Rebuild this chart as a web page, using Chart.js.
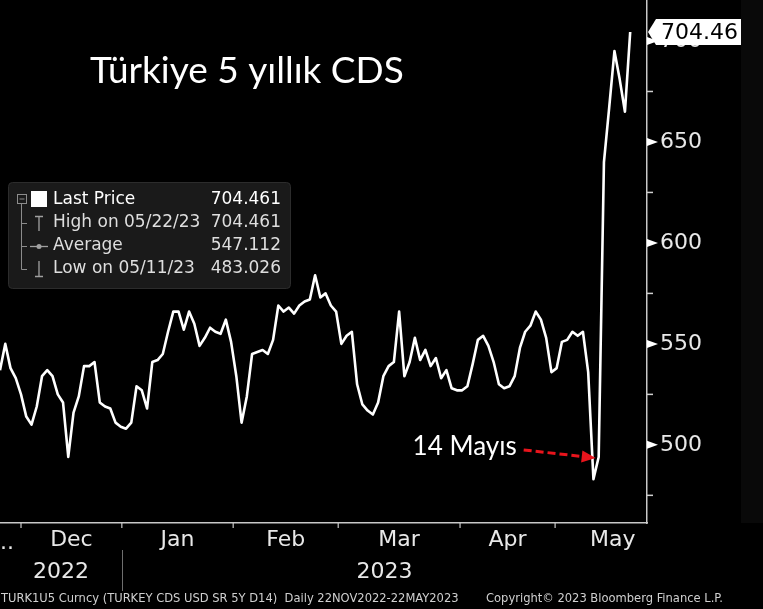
<!DOCTYPE html>
<html><head><meta charset="utf-8">
<script src="https://cdn.jsdelivr.net/npm/chart.js@4.4.1/dist/chart.umd.min.js"></script>
<style>html,body{margin:0;padding:0;background:#000;overflow:hidden}canvas{display:block}</style>
</head><body>
<canvas id="c" width="763" height="609" style="width:763px;height:609px"></canvas>
<script>
// trading-day index (0 = 1 Dec 2022) and Turkey 5Y CDS level
const tradingDay = [-4,-3,-2,-1,0,1,2,3,4,5,6,7,8,9,10,11,12,13,14,15,16,17,18,19,20,21,22,23,24,25,26,27,28,29,30,31,32,33,34,35,36,37,38,39,40,41,42,43,44,45,46,47,48,49,50,51,52,53,54,55,56,57,58,59,60,61,62,63,64,65,66,67,68,69,70,71,72,73,74,75,76,77,78,79,80,81,82,83,84,85,86,87,88,89,90,91,92,93,94,95,96,97,98,99,100,101,102,103,104,105,106,107,108,109,110,111,112,113,114,115,116];
const cdsValue = [537,550,538,533,525,514,510,519,534,537,534,525,521,494,516,524,539,539,541,521,519,518,511,509,508,511,529,527,518,541,542,545,556,566,566,557,566,560,549,553,558,556,555,562,551,534,511,524,545,546,547,545,552,569,566,568,565,569,571,572,584,573,575,569,566,550,554,556,530,520,517,515,521,534,539,541,566,534,541,553,542,547,539,543,533,537,528,527,527,529,540,552,554,549,541,530,528,529,534,548,556,559,566,562,553,536,538,551,552,556,554,556,536,483.026,494,640,667,695,681,665,704.461];
const monthStarts = [0,19.2,40.4,60.4,83.6,101.7,123.7];
const monthLabels = ['Dec','Jan','Feb','Mar','Apr','May'];
const yearLabels = ['2022','2023'];
const yTickValues = [500,550,600,650,700];
const yMinorValues = [475,525,575,625,675];
const legendRows = [['Last Price','704.461'],['High on 05/22/23','704.461'],['Average','547.112'],['Low on 05/11/23','483.026']];
const lastValueLabel = '704.46';
const noteDay = 110, noteValue = 494, noteText = '14 Mayıs';
const titleText = 'Türkiye 5 yıllık CDS';
const footerLeft = 'TURK1U5 Curncy (TURKEY CDS USD SR 5Y D14)  Daily 22NOV2022-22MAY2023';
const footerRight = 'Copyright\u00A9 2023 Bloomberg Finance L.P.';

const monthCenters = monthLabels.map((m,i)=>(monthStarts[i]+monthStarts[i+1])/2);
const AX = '"DejaVu Sans", sans-serif';
const AXC = '"DejaVu Sans Condensed", "Liberation Sans Narrow", "DejaVu Sans", sans-serif';

const decor = {
  id:'decor',
  afterDraw(chart){
    const ctx = chart.ctx, ca = chart.chartArea, xs = chart.scales.x, ys = chart.scales.y;
    ctx.save();
    // right dark strip
    ctx.fillStyle = '#090909';
    ctx.fillRect(741, 0, 22, ca.bottom);
    // y minor ticks
    ctx.strokeStyle = '#d0d0d0'; ctx.lineWidth = 1.5;
    yMinorValues.forEach(v=>{const y=ys.getPixelForValue(v);ctx.beginPath();ctx.moveTo(ca.right,y);ctx.lineTo(ca.right+6,y);ctx.stroke();});
    // y major tick triangles
    ctx.fillStyle = '#ffffff';
    yTickValues.forEach(v=>{const y=ys.getPixelForValue(v);ctx.beginPath();ctx.moveTo(ca.right,y-4);ctx.lineTo(ca.right+11,y);ctx.lineTo(ca.right,y+4);ctx.closePath();ctx.fill();});
    // x month ticks
    ctx.strokeStyle = '#c8c8c8'; ctx.lineWidth = 1.2;
    monthStarts.forEach(d=>{const x=xs.getPixelForValue(d); if(x<ca.left||x>ca.right) return; ctx.beginPath();ctx.moveTo(x,ca.bottom);ctx.lineTo(x,ca.bottom+5);ctx.stroke();});
    // truncated previous month label
    ctx.fillStyle = '#e8e8e8'; ctx.font = '22px '+AX; ctx.textBaseline='alphabetic'; ctx.textAlign='left';
    ctx.fillText('..', ca.left, ca.bottom+26);
    // year labels
    const yb = xs.getPixelForValue(monthStarts[1]);
    ctx.textAlign='center';
    ctx.fillText(yearLabels[0], (ca.left+yb)/2, ca.bottom+55);
    ctx.fillText(yearLabels[1], (yb+ca.right)/2, ca.bottom+55);
    ctx.strokeStyle = '#6e6e6e'; ctx.lineWidth = 1;
    ctx.beginPath(); ctx.moveTo(Math.round(yb)+0.5, ca.bottom+27); ctx.lineTo(Math.round(yb)+0.5, ca.bottom+68); ctx.stroke();
    // footer
    ctx.fillStyle = '#cfcfcf'; ctx.font = '12.8px '+AXC; ctx.textAlign='left';
    ctx.fillText(footerLeft, 1, 602);
    ctx.fillText(footerRight, 486, 602);
    // title
    ctx.fillStyle = '#ffffff'; ctx.font = '37px Lato, "Open Sans", sans-serif';
    ctx.fillText(titleText, 90, 83);
    // annotation
    const px = xs.getPixelForValue(noteDay), py = ys.getPixelForValue(noteValue);
    const tipX = px-3, tipY = py+1, tailX = tipX-72, tailY = tipY-8;
    ctx.strokeStyle = '#e8141c'; ctx.fillStyle = '#e8141c'; ctx.lineWidth = 3; ctx.setLineDash([8,4]);
    const ang = Math.atan2(tipY-tailY, tipX-tailX);
    ctx.beginPath(); ctx.moveTo(tailX,tailY); ctx.lineTo(tipX-12*Math.cos(ang), tipY-12*Math.sin(ang)); ctx.stroke();
    ctx.setLineDash([]);
    ctx.beginPath(); ctx.moveTo(tipX,tipY);
    ctx.lineTo(tipX-14*Math.cos(ang)+6*Math.sin(ang), tipY-14*Math.sin(ang)-6*Math.cos(ang));
    ctx.lineTo(tipX-14*Math.cos(ang)-6*Math.sin(ang), tipY-14*Math.sin(ang)+6*Math.cos(ang));
    ctx.closePath(); ctx.fill();
    ctx.fillStyle = '#ffffff'; ctx.font = '26px Lato, "Open Sans", sans-serif'; ctx.textAlign='right'; ctx.textBaseline='middle';
    ctx.fillText(noteText, tailX-7, tailY-3);
    // legend box
    ctx.fillStyle = '#1a1a1a'; ctx.strokeStyle = '#2c2c2c'; ctx.lineWidth = 1;
    ctx.beginPath(); ctx.roundRect(8.5, 182.5, 282, 106, 4); ctx.fill(); ctx.stroke();
    ctx.strokeStyle = '#8c8c8c';
    ctx.strokeRect(17.5, 194.5, 9, 9);
    ctx.beginPath(); ctx.moveTo(19.5,199); ctx.lineTo(24.5,199); ctx.stroke();
    ctx.beginPath(); ctx.moveTo(21.5,203.5); ctx.lineTo(21.5,269.5);
    [223,246,269].forEach(y=>{ctx.moveTo(21.5,y+0.5);ctx.lineTo(27,y+0.5);});
    ctx.stroke();
    ctx.fillStyle = '#ffffff'; ctx.fillRect(31, 191, 16, 16);
    ctx.strokeStyle = '#a0a0a0'; ctx.lineWidth = 1.3;
    ctx.beginPath(); ctx.moveTo(35,216.5); ctx.lineTo(43,216.5); ctx.moveTo(39,216.5); ctx.lineTo(39,231); ctx.stroke();
    ctx.beginPath(); ctx.moveTo(30,246.5); ctx.lineTo(48,246.5); ctx.stroke();
    ctx.beginPath(); ctx.arc(39,246.5,2.5,0,Math.PI*2); ctx.fillStyle='#a0a0a0'; ctx.fill();
    ctx.beginPath(); ctx.moveTo(39,261); ctx.lineTo(39,276.5); ctx.moveTo(35,276.5); ctx.lineTo(43,276.5); ctx.stroke();
    ctx.font = '17px '+AX; ctx.textBaseline='middle';
    legendRows.forEach((r,i)=>{
      const y = 200 + i*23;
      ctx.fillStyle = i===0 ? '#ffffff' : '#dedede';
      ctx.textAlign='left'; ctx.fillText(r[0], 53, y);
      ctx.textAlign='right'; ctx.fillText(r[1], 281, y);
    });
    // last value box
    const yl = ys.getPixelForValue(cdsValue[cdsValue.length-1]);
    ctx.fillStyle = '#ffffff';
    ctx.beginPath(); ctx.moveTo(ca.right+1, yl); ctx.lineTo(ca.right+9, yl-13); ctx.lineTo(ca.right+94, yl-13);
    ctx.lineTo(ca.right+94, yl+13); ctx.lineTo(ca.right+9, yl+13); ctx.closePath(); ctx.fill();
    ctx.fillStyle = '#000000'; ctx.font = '22px '+AX; ctx.textAlign='left'; ctx.textBaseline='middle';
    ctx.fillText(lastValueLabel, ca.right+14, yl+1);
    ctx.restore();
  }
};

new Chart(document.getElementById('c'), {
  type:'line',
  data:{datasets:[{data:tradingDay.map((d,i)=>({x:d,y:cdsValue[i]})), borderColor:'#ffffff', borderWidth:2.6, pointRadius:0, tension:0, borderJoinStyle:'round', fill:false}]},
  options:{
    responsive:false, animation:false, devicePixelRatio:1,
    layout:{padding:0},
    plugins:{legend:{display:false}, tooltip:{enabled:false}, title:{display:false}},
    scales:{
      x:{type:'linear', min:-4, max:119.2,
        grid:{display:false, drawTicks:false},
        border:{display:true, color:'#c8c8c8', width:1.5},
        afterBuildTicks:s=>{s.ticks = monthCenters.map(v=>({value:v}));},
        afterFit:s=>{s.height = 86; s.paddingLeft = 0; s.paddingRight = 0;},
        ticks:{autoSkip:false, maxRotation:0, padding:4, color:'#e8e8e8', font:{family:AX, size:22}, callback:(v,i)=>monthLabels[i]}
      },
      y:{type:'linear', position:'right', min:461.3, max:720.3,
        grid:{display:false, drawTicks:false},
        border:{display:true, color:'#c8c8c8', width:1.5},
        afterBuildTicks:s=>{s.ticks = yTickValues.map(v=>({value:v}));},
        afterFit:s=>{s.width = 116; s.paddingTop = 0; s.paddingBottom = 0;},
        ticks:{padding:13, color:'#e8e8e8', font:{family:AX, size:22}, callback:v=>String(v)}
      }
    }
  },
  plugins:[decor]
});
</script>
</body></html>
